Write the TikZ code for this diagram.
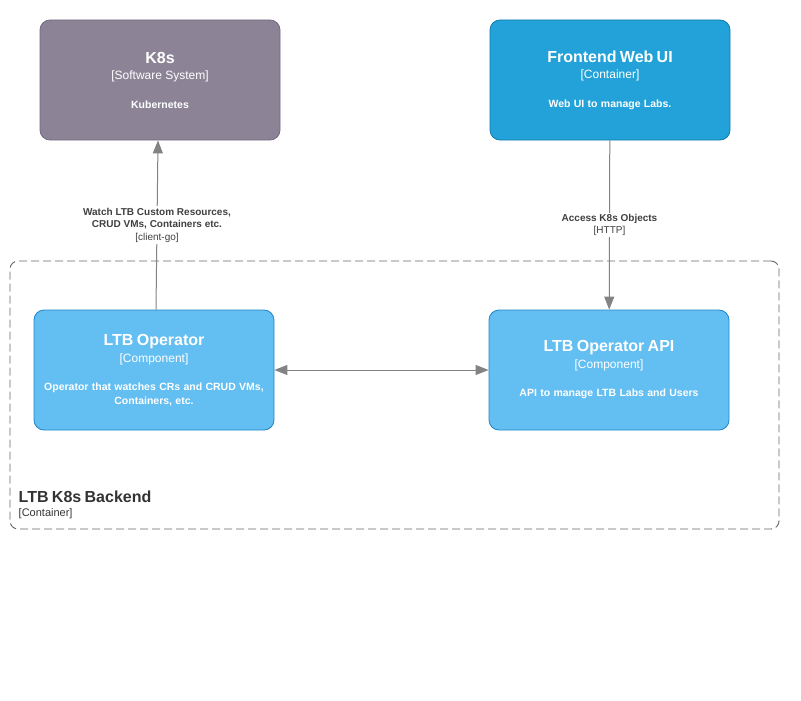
\documentclass[tikz,border=0pt]{standalone}
\usepackage{fontspec}
\setmainfont{Liberation Sans}
\usepackage{tikz}
\usetikzlibrary{arrows.meta}
\usepackage{xcolor}
\definecolor{k8sfill}{HTML}{8C8496}
\definecolor{k8sline}{HTML}{736782}
\definecolor{webfill}{HTML}{23A2D9}
\definecolor{webline}{HTML}{0E7DAD}
\definecolor{compfill}{HTML}{63BEF2}
\definecolor{compline}{HTML}{2086C9}
\definecolor{flowgray}{HTML}{838383}
\definecolor{labelgray}{HTML}{404040}
\definecolor{bordergray}{HTML}{666666}
\newcommand{\boxtext}[3]{{\fontsize{16}{19}\selectfont\bfseries #1\par}{\fontsize{12}{16.5}\selectfont [#2]\par}\vspace{15pt}{\fontsize{10.5}{13.5}\selectfont\bfseries #3\par}}

\begin{document}
\begin{tikzpicture}[x=1pt,y=-1pt,
  c4box/.style={rounded corners=10pt, line width=0.8pt, text=white, minimum width=240pt, minimum height=120pt, text width=232pt, align=center, inner sep=4pt},
  flow/.style={flowgray, line width=1pt, -{Triangle[length=13pt,width=10pt]}},
  twoway/.style={flowgray, line width=1pt, {Triangle[length=13pt,width=10pt]}-{Triangle[length=13pt,width=10pt]}},
  flowlabel/.style={fill=white, text=labelgray, align=center, inner sep=1.5pt, font=\fontsize{10}{12.5}\selectfont}]
\useasboundingbox (0,0) rectangle (801,701);

% boundary of the backend
\node[draw=bordergray, dash pattern=on 8pt off 4pt, line width=0.9pt, rounded corners=8pt, minimum width=769pt, minimum height=268pt] (backend) at (394.5,395) {};
\node[anchor=south west, inner sep=0pt, text=black!80, text width=200pt, align=left] (backendlabel) at ([xshift=9pt,yshift=10pt]backend.south west) {{\fontsize{16}{18}\selectfont\bfseries LTB K8s Backend\par}{\fontsize{11}{14}\selectfont [Container]\par}};

\node[c4box, fill=k8sfill, draw=k8sline] (k8s) at (160,80) {\boxtext{K8s}{Software System}{Kubernetes}};
\node[c4box, fill=webfill, draw=webline] (webui) at (610,80) {\boxtext{Frontend Web UI}{Container}{Web UI to manage Labs.}};
\node[c4box, fill=compfill, draw=compline] (operator) at (154,370) {\boxtext{LTB Operator}{Component}{Operator that watches CRs and CRUD VMs,\\ Containers, etc.}};
\node[c4box, fill=compfill, draw=compline] (api) at (609,370) {\boxtext{LTB Operator API}{Component}{API to manage LTB Labs and Users}};

\draw[flow] ([xshift=2pt]operator.north) -- node[flowlabel] (watchlabel) {\textbf{Watch LTB Custom Resources,}\\\textbf{CRUD VMs, Containers etc.}\\{[client-go]}} ([xshift=-2pt]k8s.south);
\draw[flow] (webui) -- node[flowlabel] (accesslabel) {\textbf{Access K8s Objects}\\{[HTTP]}} (api);
\draw[twoway] (operator) -- (api);

\end{tikzpicture}
\end{document}
